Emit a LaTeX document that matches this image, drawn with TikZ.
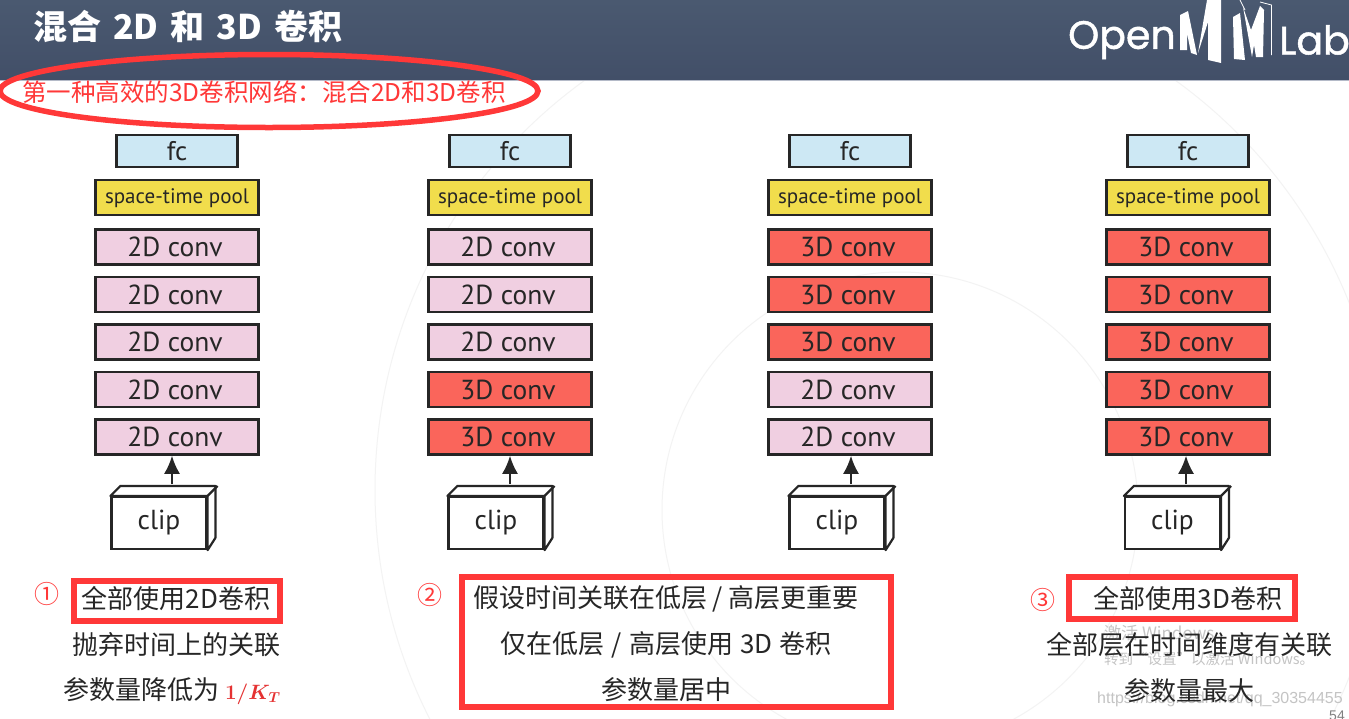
\documentclass[tikz,border=0pt]{standalone}
\usepackage{fontspec}
\usepackage{tikz}
\usetikzlibrary{arrows.meta,positioning,calc,shapes.geometric}
\setmainfont{PT Sans}
\newfontfamily\cjk{Noto Sans CJK SC}
\newfontfamily\logofont[FakeBold=1.2]{Poppins}
\newfontfamily\markfont{Liberation Sans}
\definecolor{headtop}{HTML}{4A5970}
\definecolor{headlow}{HTML}{424F68}
\definecolor{headline}{HTML}{B4BAC8}
\definecolor{ink}{HTML}{262626}
\definecolor{mark}{HTML}{FF3838}
\definecolor{fcblue}{HTML}{CDE8F4}
\definecolor{poolyellow}{HTML}{F1DD4C}
\definecolor{convpink}{HTML}{F0CFE1}
\definecolor{convred}{HTML}{FA655B}
\definecolor{faint}{HTML}{F3F3F3}
\definecolor{ghost}{HTML}{C4C4C4}
\tikzset{
  layer/.style={draw=ink,line width=2.4pt,align=center,inner sep=0pt,text=ink},
  fcbox/.style={layer,fill=fcblue,minimum width=121pt,minimum height=32pt,font=\fontsize{27}{30}\selectfont},
  poolbox/.style={layer,fill=poolyellow,minimum width=163pt,minimum height=35pt,font=\fontsize{21}{24}\selectfont},
  conva/.style={layer,fill=convpink,minimum width=163pt,minimum height=35pt,font=\fontsize{27.5}{30}\selectfont,
    execute at end node={\hspace{4pt}}},
  convb/.style={conva,fill=convred},
  clipbox/.style={draw=ink,line width=2.2pt,fill=white,minimum width=95pt,minimum height=52pt,
    inner sep=0pt,text=ink,font=\fontsize{27.5}{31}\selectfont},
  arrow/.style={-{Latex[length=18pt,width=16pt]},draw=ink,line width=2pt},
  body/.style={inner sep=0pt,text=ink,font=\cjk\fontsize{26}{30}\selectfont},
  circled/.style={inner sep=0pt,text=mark,font=\cjk\fontsize{25}{29}\selectfont},
  redbox/.style={draw=mark,line width=6.5pt,inner sep=0pt},
  ghosttext/.style={inner sep=0pt,text=ghost,anchor=west}
}

\begin{document}
\begin{tikzpicture}[x=1pt,y=-1pt,node distance=10.1pt]
  \useasboundingbox (0,0) rectangle (1349,718);
  \fill[white] (0,0) rectangle (1349,718);
  % faint rings behind the slide
  \begin{scope}
    \clip (0,0) rectangle (1349,718);
    \draw[faint,line width=1pt] (880,490) circle (505);
    \draw[faint,line width=1pt] (900,510) circle (238);
    % header
    \shade[top color=headtop,bottom color=headlow] (0,0) rectangle (1349,80);
    \draw[headline,line width=1pt] (0,80.5) -- (1349,80.5);
    \node[anchor=west,inner sep=0pt,text=white,font=\logofont\fontsize{39.5}{44}\selectfont] (open) at (1068,40) {Open};
    \node[anchor=east,inner sep=0pt,text=white,font=\logofont\fontsize{39.5}{44}\selectfont] (lab) at (1350,40) {Lab};
    % logo letters
    \fill[white] (1180,15) -- (1188,11) -- (1197,55) -- (1191,53) -- (1187,33) -- (1187,50) -- (1180,50) -- cycle;
    \fill[white] (1207,0) -- (1221,0) -- (1221,63) -- (1208,60) -- (1208,22) -- (1198,53) -- cycle;
    \fill[white] (1233,17) -- (1240,13) -- (1245,60) -- (1234,59) -- cycle;
    \fill[white] (1243,7) -- (1251,30) -- (1260,6) -- (1264,10) -- (1263,57) -- (1256,57) -- (1254,45) -- (1252,57) -- cycle;
    \draw[white,line width=.8pt] (1240,0) -- (1245,10) (1260,2) -- (1271.5,5) -- (1271.5,55);
  \end{scope}

  \node[anchor=west,inner sep=0pt,text=white,font=\cjk\bfseries\fontsize{34}{38}\selectfont] (title) at (33,26)
    {混合\hspace{12pt}2D\hspace{12pt}和\hspace{12pt}3D\hspace{12pt}卷积};
  \node[inner sep=0pt,text=mark,font=\cjk\fontsize{24.5}{29}\selectfont] (sub) at (264,92) {第一种高效的3D卷积网络：混合2D和3D卷积};
  \node[ellipse,draw=mark,line width=5.5pt,minimum width=538pt,minimum height=73pt] (ring) at (269,91) {};

  % four columns: id / x of stack / x of clip / arrow offset / five layers
  \foreach \col/\cx/\clipx/\ax/\la/\lb/\lc/\ld/\le in {
      1/177/159/-5/a/a/a/a/a,
      2/510/496/0/a/a/a/b/b,
      3/850/837/1/b/b/b/a/a,
      4/1188/1172.5/-2/b/b/b/b/b}{
    \node[fcbox] (fc\col) at (\cx,151) {fc};
    \node[poolbox,below=of fc\col,yshift=-.7pt] (pool\col) {space-time pool};
    \node[conv\la,below=of pool\col,yshift=-1.9pt] (ca\col) {\if a\la 2D\else 3D\fi{} conv};
    \node[conv\lb,below=of ca\col] (cb\col) {\if a\lb 2D\else 3D\fi{} conv};
    \node[conv\lc,below=of cb\col] (cc\col) {\if a\lc 2D\else 3D\fi{} conv};
    \node[conv\ld,below=of cc\col] (cd\col) {\if a\ld 2D\else 3D\fi{} conv};
    \node[conv\le,below=of cd\col] (ce\col) {\if a\le 2D\else 3D\fi{} conv};
    \node[clipbox] (clip\col) at (\clipx,523) {clip};
    \draw[ink,line width=2.2pt,line join=round,fill=white] (clip\col.north west) -- ++(10,-10) -- ++(95,0) -- ++(0,52) -- (clip\col.south east)
      -- (clip\col.north east) -- cycle;
    \draw[ink,line width=2.2pt,line join=round] (clip\col.north east) -- ++(10,-10);
    \coordinate (tip\col) at ($(ce\col.south)+(\ax,0)$);
    \draw[arrow] (tip\col |- 0,484) -- (tip\col);
  }

  % watermark under the notes
  \node[ghosttext,font=\cjk\fontsize{17}{20}\selectfont] (wma) at (1104,633) {激活 Windows};
  \node[ghosttext,font=\cjk\fontsize{14.5}{17}\selectfont] (wmb) at (1104,659) {转到“设置”以激活 Windows。};
  \node[ghosttext,font=\markfont\fontsize{16}{19}\selectfont] (wmc) at (1097,699) {https://blog.csdn.net/qq\_30354455};
  \node[ghosttext,text=gray,font=\markfont\fontsize{14}{17}\selectfont] (page) at (1329,716) {54};

  % notes
  \node[circled] (numa) at (47,594) {①};
  \node[circled] (numb) at (430,595) {②};
  \node[circled] (numc) at (1043,600) {③};

  \node[redbox,minimum width=206pt,minimum height=40pt] (boxa) at (177,601) {};
  \node[redbox,minimum width=429pt,minimum height=130pt] (boxb) at (676.5,642) {};
  \node[redbox,minimum width=226pt,minimum height=42pt] (boxc) at (1182,598) {};

  \node[body] (noteaa) at (176,599) {全部使用2D卷积};
  \node[body] (noteab) at (176,645) {抛弃时间上的关联};
  \node[body,anchor=west] (noteac) at (63,691) {参数量降低为 {\color{mark!90!black}\fontsize{21.5}{26}\selectfont\boldmath$1/K_T$}};
  \node[body] (noteba) at (666,599) {假设时间关联在低层 / 高层更重要};
  \node[body] (notebb) at (666,645) {仅在低层\hspace{1.5pt} / \hspace{1.5pt}高层使用 \hspace{1pt}3D\hspace{1pt} 卷积};
  \node[body] (notebc) at (666,690) {参数量居中};
  \node[body] (noteca) at (1188,599) {全部使用3D卷积};
  \node[body] (notecb) at (1189,645) {全部层在时间维度有关联};
  \node[body] (notecc) at (1189,691) {参数量最大};
\end{tikzpicture}
\end{document}
